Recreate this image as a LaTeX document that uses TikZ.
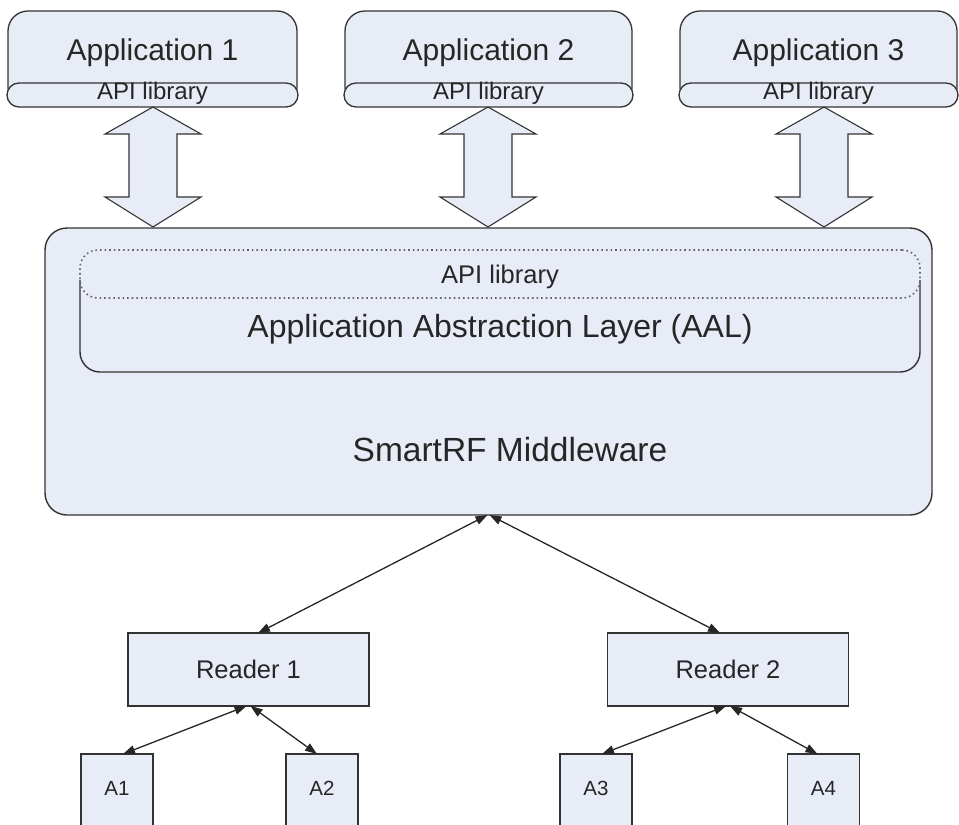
\documentclass[tikz,border=0pt]{standalone}
\usepackage{fontspec}
\setmainfont{Liberation Sans}
\usetikzlibrary{arrows.meta,calc,backgrounds}
\definecolor{boxfill}{HTML}{E7ECF6}
\definecolor{edge}{HTML}{333333}
\newcommand{\fsz}[1]{\fontsize{#1}{#1}\selectfont}
\begin{document}
\begin{tikzpicture}[x=1pt,y=-1pt,
  base/.style={inner sep=0pt, outer sep=0pt, text=black!85},
  appbox/.style={base, minimum width=#1, minimum height=78pt, font=\fsz{30}, text height=21.5pt, text depth=0pt},
  apibox/.style={base, draw=edge, line width=1.3pt, fill=boxfill, rounded corners=12pt, minimum width=#1, minimum height=24pt, font=\fsz{24}, text height=14pt, text depth=5pt},
  reader/.style={base, draw=edge, line width=1.4pt, fill=boxfill, minimum width=241pt, minimum height=73pt, font=\fsz{25.5}, text height=18.3pt, text depth=0pt},
  abox/.style={base, draw=edge, line width=1.4pt, fill=boxfill, minimum width=72pt, minimum height=76pt, font=\fsz{20.5}, text height=14.6pt, text depth=8pt},
  blockarrow/.style={draw=edge, line width=1.1pt, fill=boxfill, line join=miter},
  conn/.style={draw=black!85, line width=1.3pt, {Triangle[length=12pt,width=8.5pt]}-{Triangle[length=12pt,width=8.5pt]}}
]
\useasboundingbox (0,0) rectangle (959,825);
\clip (0,0) rectangle (959,825);

% middleware
\node (mw) [base, draw=edge, line width=1.4pt, fill=boxfill, rounded corners=22pt, minimum width=887pt, minimum height=287pt] at (488.5,371.5) {};
\node (mwtext) [base, font=\fsz{33.5}] at (510,450) {SmartRF Middleware};

% AAL
\node (aal) [base, minimum width=840pt, minimum height=92pt, font=\fsz{32}, text height=22.9pt, text depth=0pt] at (500,326) {Application Abstraction Layer (AAL)};
\draw[edge, line width=1.4pt, rounded corners=20pt] (aal.north west) -- (aal.south west) -- (aal.south east) -- (aal.north east);
\node (apim) [base, draw=black!60, line width=1.6pt, dash pattern=on 1.6pt off 3pt, rounded corners=18pt, minimum width=840pt, minimum height=48pt, font=\fsz{25.5}, text height=18.3pt, text depth=0pt] at (500,274) {API library};

% applications
\node (app1) [appbox=289pt] at (152.5,50) {Application 1};
\node (app2) [appbox=287pt] at (488.5,50) {Application 2};
\node (app3) [appbox=277pt] at (818.5,50) {Application 3};
\begin{scope}[on background layer]
\foreach \n in {app1,app2,app3}
  \filldraw[fill=boxfill, draw=edge, line width=1.3pt, rounded corners=20pt] (\n.south west) -- (\n.north west) -- (\n.north east) -- (\n.south east);
\end{scope}
\node (api1) [apibox=291pt] at (152.5,95) {API library};
\node (api2) [apibox=289pt] at (488.5,95) {API library};
\node (api3) [apibox=279pt] at (818.5,95) {API library};

% block arrows
\foreach \s/\dx in {api1/0.5, api2/-0.5, api3/5.5}
  \draw[blockarrow] ($(\s.south)+(\dx,0)$) -- ++(48,27) -- ++(-24,0) -- ++(0,63) -- ++(24,0) -- ++(-48,30) -- ++(-48,-30) -- ++(24,0) -- ++(0,-63) -- ++(-24,0) -- cycle;

% readers and antennas
\node (r1) [reader] at (248.5,669.5) {Reader 1};
\node (r2) [reader] at (728,669.5) {Reader 2};
\node (a1) [abox] at (117,792) {A1};
\node (a2) [abox] at (322,792) {A2};
\node (a3) [abox] at (596,792) {A3};
\node (a4) [abox] at (823.5,792) {A4};

% connectors
\draw[conn] ($(mw.south)+(-1,0)$) -- ($(r1.north)+(9.5,0)$);
\draw[conn] ($(mw.south)+(1,0)$) -- ($(r2.north)+(-8,0)$);
\draw[conn] ($(r1.south)+(-2,0)$) -- ($(a1.north)+(6,0)$);
\draw[conn] ($(r1.south)+(2,0)$) -- ($(a2.north)+(-5,0)$);
\draw[conn] ($(r2.south)+(-2,0)$) -- ($(a3.north)+(6,0)$);
\draw[conn] ($(r2.south)+(2,0)$) -- ($(a4.north)+(-6,0)$);
\end{tikzpicture}
\end{document}
